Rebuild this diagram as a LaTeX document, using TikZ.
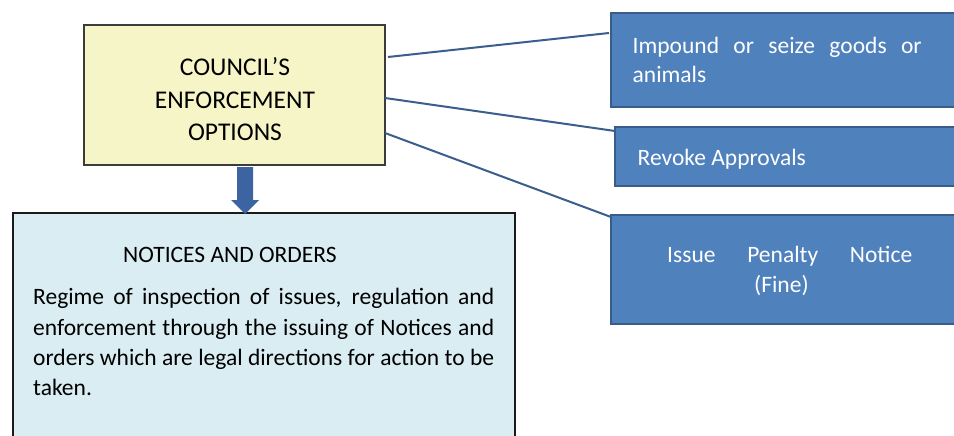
\documentclass[tikz,border=0pt]{standalone}
\usepackage{fontspec}
\setmainfont{Carlito}
\usetikzlibrary{calc}
\definecolor{yfill}{HTML}{F6F5C8}
\definecolor{ydraw}{HTML}{3C3C3C}
\definecolor{bfill}{HTML}{4F81BD}
\definecolor{bdraw}{HTML}{385D8A}
\definecolor{lfill}{HTML}{DAEDF3}
\definecolor{ldraw}{HTML}{1A1A1A}
\definecolor{linec}{HTML}{3A5E8E}
\definecolor{arrowc}{HTML}{3B64A0}
\newcommand\myYfont{\fontsize{25.5}{32}\selectfont}
\newcommand\myBfont{\fontsize{23.5}{29}\selectfont}
\tikzset{
  box/.style={rectangle, anchor=north west, inner sep=0pt, outer sep=0pt},
  ybox/.style={box, fill=yfill, draw=ydraw, line width=1.5pt},
  bbox/.style={box, fill=bfill, draw=bdraw, line width=2.2pt},
  lbox/.style={box, fill=lfill, draw=ldraw, line width=1.2pt},
  ytxt/.style={inner sep=0pt, anchor=base, font=\myYfont, text=black},
  ltxt/.style={inner sep=0pt, anchor=base west, font=\myBfont, text=black},
  wtxt/.style={inner sep=0pt, anchor=base west, font=\myBfont, text=white},
  conn/.style={draw=linec, line width=2pt}
}
\begin{document}
\begin{tikzpicture}[x=1pt,y=-1pt]
\useasboundingbox (0,0) rectangle (954,436);
\fill[white] (0,0) rectangle (954,436);

% boxes
\node[ybox, minimum width=301pt, minimum height=140pt] (council) at (84,25) {};
\node[lbox, minimum width=502pt, minimum height=240pt] (notices) at (13,213) {};
\node[bbox, minimum width=440pt, minimum height=94pt] (imp) at (611,13) {};
\node[bbox, minimum width=440pt, minimum height=59pt] (rev) at (615,127) {};
\node[bbox, minimum width=440pt, minimum height=109pt] (fine) at (611,215) {};

% council text
\node[ytxt] (cl1) at (235,76) {COUNCIL’S};
\node[ytxt] (cl2) at (235,108) {ENFORCEMENT};
\node[ytxt] (cl3) at (235,140) {OPTIONS};

% notices text
\node[ltxt] (nt0) at (123,262.5) {NOTICES AND ORDERS};
\node[ltxt] (nt1) at (33,304.8) {\makebox[461pt][s]{Regime of inspection of issues, regulation and}};
\node[ltxt] (nt2) at (33,335.1) {\makebox[461pt][s]{enforcement through the issuing of Notices and}};
\node[ltxt] (nt3) at (33,365.4) {\makebox[461pt][s]{orders which are legal directions for action to be}};
\node[ltxt] (nt4) at (33,395.7) {taken.};

% blue box texts
\node[wtxt] (it1) at (632.5,53.5) {\makebox[289pt][s]{Impound or seize goods or}};
\node[wtxt] (it2) at (632.5,83) {animals};
\node[wtxt] (rt1) at (637.5,165) {Revoke Approvals};
\node[wtxt] (ft1) at (667,262.7) {\makebox[245pt][s]{Issue Penalty Notice}};
\node[wtxt] (ft2) at (754,292) {(Fine)};

% connectors
\draw[conn] ($(council.north east)+(3,32)$) -- ($(imp.north west)+(-2,20)$);
\draw[conn] ($(council.north east)+(0,73)$) -- ($(rev.north west)+(0,4)$);
\draw[conn] ($(council.north east)+(0,108)$) -- ($(fine.north west)+(0,2)$);

% down arrow
\coordinate (as) at ($(council.south west)+(161,2)$);
\coordinate (ae) at ($(notices.north west)+(232,1)$);
\fill[arrowc] ($(as)+(-8,0)$) -- ($(as)+(8,0)$) -- ($(ae)+(8,-14)$) -- ($(ae)+(14,-14)$) -- (ae) -- ($(ae)+(-14,-14)$) -- ($(ae)+(-8,-14)$) -- cycle;
\end{tikzpicture}
\end{document}
